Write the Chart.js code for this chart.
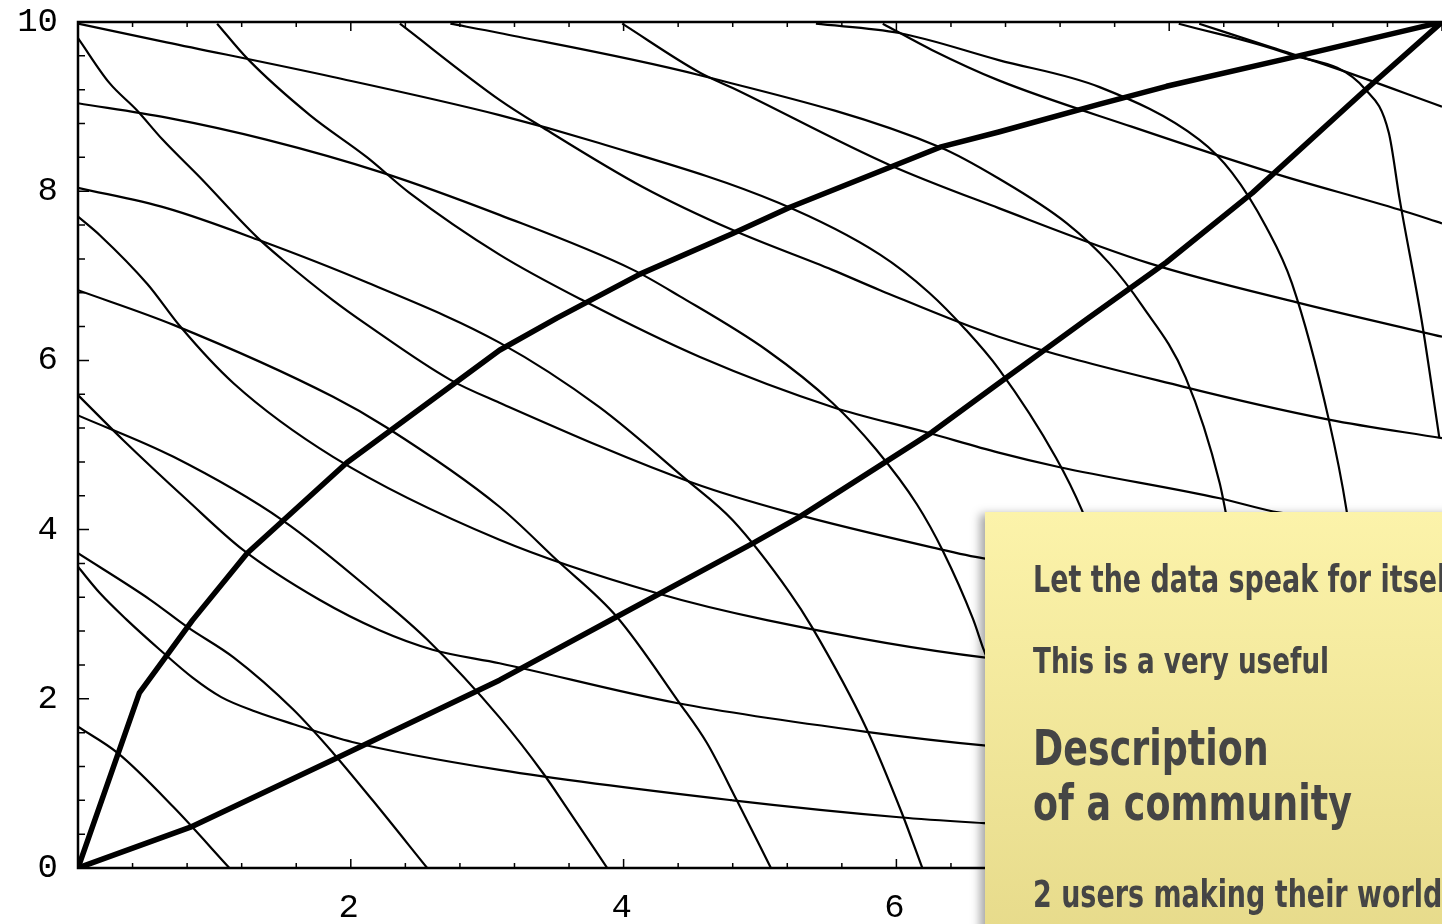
<!DOCTYPE html>
<html>
<head>
<meta charset="utf-8">
<script src="https://cdn.jsdelivr.net/npm/chart.js@4.4.0/dist/chart.umd.min.js"></script>
<style>
  html, body { margin: 0; padding: 0; background: #fff; overflow: hidden; }
  #wrap { position: relative; width: 1442px; height: 924px; }
  #nota {
    position: absolute; left: 985px; top: 512px; width: 520px; height: 440px;
    background: linear-gradient(#fcf3aa, #e6da8a);
    box-shadow: -5px 2px 9px rgba(0,0,0,0.35);
    font-family: "DejaVu Sans Condensed", "DejaVu Sans", sans-serif;
    font-weight: bold; color: #454545; white-space: nowrap;
  }
  #nota div { position: absolute; left: 48px; line-height: 1; transform: scaleX(0.81); transform-origin: 0 0; }
</style>
</head>
<body>
<div id="wrap">
  <canvas id="grafico"></canvas>
  <div id="nota">
    <div style="top:49px;font-size:37px">Let the data speak for itself</div>
    <div style="top:131px;font-size:36px">This is a very useful</div>
    <div style="top:211px;font-size:50px">Description</div>
    <div style="top:266px;font-size:50px">of a community</div>
    <div style="top:364px;font-size:37px">2 users making their world</div>
  </div>
</div>
<script>
// Trayectorias gruesas de los 2 usuarios
const usuarioA = [[0,0],[0.45,2.07],[0.84,2.93],[1.24,3.72],[1.97,4.79],[3.09,6.12],[3.51,6.50],[4.12,7.02],[4.80,7.50],[5.22,7.81],[6.32,8.52],[6.75,8.70],[7.49,9.03],[7.98,9.24],[8.95,9.60],[10,10]];
const usuarioB = [[0,0],[0.82,0.48],[1.87,1.28],[3.09,2.22],[3.95,2.97],[4.95,3.84],[5.29,4.15],[6.26,5.15],[6.75,5.73],[7.39,6.48],[7.98,7.16],[8.61,7.98],[9.44,9.20],[10,10]];

// Familia 1: empiezan empinadas y se aplanan hacia la derecha
const mallaA1 = [[8.22,9.98],[8.75,9.70],[9.19,9.47],[10,9.00]];
const mallaA2 = [[5.90,9.98],[6.26,9.67],[6.75,9.31],[7.73,8.76],[8.75,8.22],[9.69,7.78],[10,7.62]];
const mallaA3 = [[3.99,9.98],[4.56,9.40],[4.80,9.22],[5.95,8.31],[6.75,7.80],[7.85,7.15],[8.95,6.68],[10,6.28]];
const mallaA4 = [[2.36,9.98],[3.09,9.08],[3.41,8.75],[4.14,8.05],[4.80,7.54],[5.53,7.07],[5.88,6.83],[6.75,6.28],[8.10,5.69],[9.17,5.30],[10,5.08]];
const mallaA5 = [[1.02,9.98],[1.24,9.57],[1.70,8.90],[2.12,8.40],[2.43,7.98],[3.09,7.25],[3.70,6.71],[4.56,6.04],[5.53,5.45],[6.22,5.15],[6.75,4.91],[7.19,4.74],[8.37,4.37],[8.81,4.20],[10,4.0]];
const mallaA6 = [[0,9.81],[0.23,9.28],[0.43,8.96],[0.62,8.61],[0.89,8.17],[1.31,7.46],[1.50,7.19],[1.87,6.71],[2.12,6.42],[2.73,5.77],[3.09,5.50],[4.51,4.55],[5.22,4.20],[6.26,3.79],[6.64,3.66],[7.5,3.5]];
const mallaA7 = [[0,7.70],[0.16,7.48],[0.51,6.90],[0.75,6.40],[1.14,5.73],[1.87,4.86],[3.09,3.88],[4.24,3.25],[5.05,2.93],[6.64,2.49],[7.5,2.4]];
const mallaA8 = [[0,5.59],[0.33,5.06],[0.80,4.35],[1.21,3.76],[1.77,3.17],[2.21,2.81],[2.60,2.58],[3.09,2.42],[4.39,1.95],[5.78,1.61],[6.64,1.45],[7.5,1.35]];
const mallaA9 = [[0,3.56],[0.16,3.25],[0.36,2.93],[0.60,2.58],[0.84,2.25],[1.05,2.02],[1.30,1.85],[1.58,1.70],[2.01,1.49],[3.09,1.16],[4.80,0.80],[6.02,0.60],[6.64,0.53],[7.5,0.45]];

// Familia 2: empiezan suaves y se vuelven empinadas hacia abajo
const mallaB1 = [[8.07,9.98],[8.86,9.63],[9.44,9.20],[9.61,8.69],[9.69,7.90],[9.85,6.48],[9.98,5.09]];
const mallaB2 = [[5.41,9.98],[6.02,9.87],[6.75,9.55],[7.49,9.23],[8.22,8.61],[8.46,8.22],[8.71,7.58],[8.90,6.91],[9.17,5.30],[9.30,4.23],[9.4,3.0]];
const mallaB3 = [[2.73,9.98],[3.09,9.87],[4.56,9.37],[6.32,8.52],[6.75,8.15],[7.25,7.62],[7.56,7.15],[7.80,6.65],[8.12,5.80],[8.37,4.55],[8.45,3.9]];
const mallaB4 = [[0,9.98],[0.65,9.76],[1.87,9.35],[3.09,8.90],[3.82,8.57],[5.14,7.86],[5.88,7.25],[6.24,6.80],[6.51,6.36],[6.75,5.90],[7.17,4.85],[7.36,4.23],[7.6,3.2]];
const mallaB5 = [[0,9.04],[0.65,8.87],[1.38,8.61],[2.23,8.22],[3.09,7.72],[4.07,7.07],[4.41,6.76],[5.05,6.12],[5.53,5.50],[5.85,4.95],[6.15,4.30],[6.34,3.75],[6.56,2.95],[6.64,2.58],[6.9,1.5],[7.2,0]];
const mallaB6 = [[0,8.04],[0.65,7.80],[1.33,7.42],[2.12,6.92],[3.09,6.21],[3.82,5.45],[4.46,4.59],[4.80,4.11],[5.22,3.25],[5.38,2.85],[5.78,1.65],[6.04,0.65],[6.19,0]];
const mallaB7 = [[0,6.83],[0.70,6.42],[1.87,5.57],[2.26,5.21],[3.09,4.27],[3.51,3.64],[3.95,2.97],[4.41,1.95],[4.61,1.48],[4.83,0.80],[5.08,0]];
const mallaB8 = [[0,5.35],[0.70,4.86],[1.50,4.11],[2.23,3.17],[2.56,2.70],[3.09,1.78],[3.41,1.12],[3.58,0.72],[3.88,0]];
const mallaB9 = [[0,3.72],[0.53,3.17],[0.80,2.85],[1.14,2.49],[1.58,1.87],[1.87,1.36],[2.16,0.80],[2.56,0]];
const mallaB10 = [[0,1.67],[0.29,1.36],[0.70,0.72],[1.11,0]];

const ticksX = [2, 4, 6, 8];
const ticksY = [0, 2, 4, 6, 8, 10];

const mallas = [mallaA1, mallaA2, mallaA3, mallaA4, mallaA5, mallaA6, mallaA7, mallaA8, mallaA9,
  mallaB1, mallaB2, mallaB3, mallaB4, mallaB5, mallaB6, mallaB7, mallaB8, mallaB9, mallaB10];

function aPuntos(arr) {
  return arr.map(p => ({ x: p[0], y: p[1] }));
}

const datasets = mallas.map(m => ({
  data: aPuntos(m),
  showLine: true,
  borderColor: '#000',
  borderWidth: 2.2,
  borderJoinStyle: 'round',
  pointRadius: 0,
  cubicInterpolationMode: 'monotone'
}));
[usuarioA, usuarioB].forEach(u => datasets.push({
  data: aPuntos(u),
  showLine: true,
  borderColor: '#000',
  borderWidth: 5.5,
  borderJoinStyle: 'round',
  pointRadius: 0,
  tension: 0
}));

// Marco con marcas hacia adentro y etiquetas (estilo Mathematica)
const marco = {
  id: 'marco',
  afterDatasetsDraw(chart) {
    const { ctx, chartArea: a, scales: { x, y } } = chart;
    ctx.save();
    ctx.strokeStyle = '#000';
    ctx.lineWidth = 2.5;
    ctx.beginPath();
    ctx.moveTo(a.right + 5, a.top); ctx.lineTo(a.left, a.top);
    ctx.lineTo(a.left, a.bottom); ctx.lineTo(a.right + 5, a.bottom);
    ctx.stroke();
    ctx.lineWidth = 1.5;
    ctx.beginPath();
    for (let i = 0; i <= 25; i++) {
      const v = i * 0.4;
      const mayor = i % 5 === 0;
      const px = x.getPixelForValue(v);
      const py = y.getPixelForValue(v);
      const l = mayor ? 9 : 5;
      ctx.moveTo(px, a.bottom); ctx.lineTo(px, a.bottom - l);
      ctx.moveTo(px, a.top); ctx.lineTo(px, a.top + l);
      ctx.moveTo(a.left, py); ctx.lineTo(a.left + l + 2, py);
    }
    ctx.stroke();

    ctx.fillStyle = '#000';
    ctx.font = '34px "Liberation Mono"';
    ctx.textBaseline = 'middle';
    ctx.textAlign = 'right';
    ticksY.forEach(v => ctx.fillText(String(v), a.left - 20, y.getPixelForValue(v)));
    ctx.textAlign = 'center';
    ticksX.forEach(v => ctx.fillText(String(v), x.getPixelForValue(v) - 2, a.bottom + 40));
    ctx.restore();
  }
};

const canvas = document.getElementById('grafico');
canvas.width = 1442; canvas.height = 924;
canvas.style.width = '1442px'; canvas.style.height = '924px';

new Chart(canvas, {
  type: 'scatter',
  data: { datasets },
  options: {
    responsive: false,
    animation: false,
    layout: { padding: { top: 22, right: 0, left: 0, bottom: 0 } },
    plugins: { legend: { display: false }, tooltip: { enabled: false } },
    scales: {
      x: {
        min: 0, max: 10,
        afterFit: s => { s.height = 56; },
        grid: { display: false, drawTicks: false },
        border: { display: false },
        ticks: { display: false }
      },
      y: {
        min: 0, max: 10,
        afterFit: s => { s.width = 78; },
        grid: { display: false, drawTicks: false },
        border: { display: false },
        ticks: { display: false }
      }
    }
  },
  plugins: [marco]
});
</script>
</body>
</html>
